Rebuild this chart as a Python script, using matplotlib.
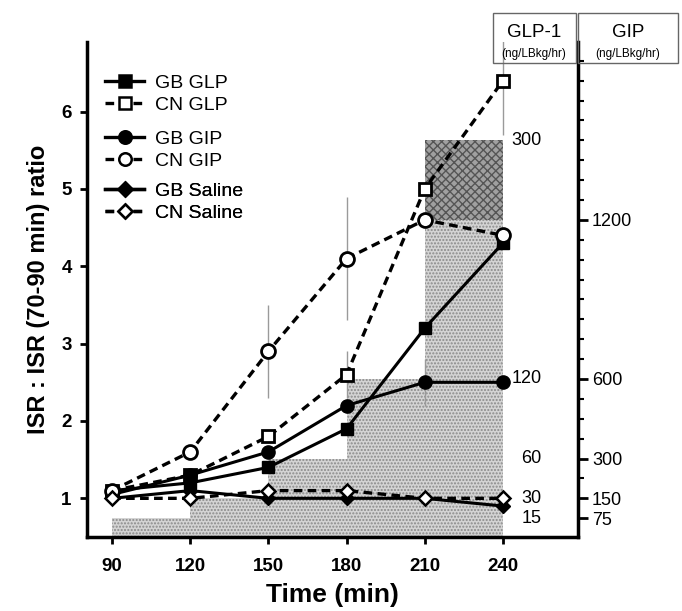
import matplotlib
matplotlib.use('Agg')
from matplotlib import pyplot as plt
from matplotlib.lines import Line2D
from matplotlib.patches import Rectangle
import matplotlib.transforms as mtransforms

plt.rcParams['font.family'] = ['Liberation Sans', 'DejaVu Sans']

times = [90, 120, 150, 180, 210, 240]

gb_glp = [1.1, 1.2, 1.4, 1.9, 3.2, 4.3]
cn_glp = [1.1, 1.3, 1.8, 2.6, 5.0, 6.4]
gb_gip = [1.05, 1.3, 1.6, 2.2, 2.5, 2.5]
cn_gip = [1.1, 1.6, 2.9, 4.1, 4.6, 4.4]
gb_sal = [1.0, 1.1, 1.0, 1.0, 1.0, 0.9]
cn_sal = [1.0, 1.0, 1.1, 1.1, 1.0, 1.0]

# error bars that show (time, mean, sem)
err_t = [150, 180, 180, 210, 240]
err_y = [2.9, 4.1, 2.6, 2.5, 6.4]
err_e = [0.6, 0.8, 0.3, 0.3, 0.7]

# infusion steps (GIP units), 30 min each
step_start = [90, 120, 150, 180, 210]
step_gip = [75, 150, 300, 600, 1200]
glp_top = 300  # GLP-1 last step

gip_ticks = [75, 150, 300, 600, 1200]
glp_ticks = [15, 30, 60, 120, 300]

# GIP scale on the right axis -> ratio units
k = 1 / 291.7
b = 0.486
def gip2r(v):
    return b + v * k
def r2gip(r):
    return (r - b) / k

fig = plt.figure(figsize=(6.82, 6.11), dpi=100)
ax = fig.add_axes([0.1276, 0.1211, 0.7199, 0.8102])

# shaded infusion
for s, g in zip(step_start, step_gip):
    ax.fill_between([s, s + 30], 0.5, gip2r(g), facecolor='#d4d4d4', hatch='.....',
                    edgecolor='#8a8a8a', linewidth=0, zorder=1)
ax.fill_between([210, 240], gip2r(1200), gip2r(glp_top * 5), facecolor='#a0a0a0',
                hatch='xxxx', edgecolor='#555555', linewidth=0, zorder=1)

ax.errorbar(err_t, err_y, yerr=err_e, fmt='none', ecolor='#9a9a9a', elinewidth=1,
            capsize=0, zorder=2)

dash = (0, (2.6, 1.6))
ax.plot(times, gb_glp, '-', color='k', lw=2.2, marker='s', ms=9, zorder=4)
ax.plot(times, cn_glp, linestyle=dash, color='k', lw=2.4, marker='s', ms=9,
        mfc='white', mew=2, zorder=4)
ax.plot(times, gb_gip, '-', color='k', lw=2.2, marker='o', ms=9.5, zorder=4)
ax.plot(times, cn_gip, linestyle=dash, color='k', lw=2.4, marker='o', ms=10,
        mfc='white', mew=2, zorder=4)
ax.plot(times, gb_sal, '-', color='k', lw=2.2, marker='D', ms=7, zorder=4)
ax.plot(times, cn_sal, linestyle=dash, color='k', lw=2.4, marker='D', ms=7,
        mfc='white', mew=1.8, zorder=4)

ax.set_xlim(80.4, 268.8)
ax.set_ylim(0.5, 6.9)
ax.set_xticks(times)
ax.set_yticks([1, 2, 3, 4, 5, 6])
ax.tick_params(axis='both', direction='out', length=5, width=2, labelsize=13.5)
ax.tick_params(axis='x', pad=10)
ax.tick_params(axis='y', pad=6)
for lab in ax.get_xticklabels() + ax.get_yticklabels():
    lab.set_fontweight('bold')
ax.spines['top'].set_visible(False)
ax.spines['right'].set_visible(False)
ax.spines['left'].set_linewidth(2.5)
ax.spines['bottom'].set_linewidth(2.5)

ax.set_xlabel('Time (min)', fontsize=19, fontweight='bold', labelpad=6)
ax.set_ylabel('ISR : ISR (70-90 min) ratio', fontsize=17, fontweight='bold', labelpad=8)

# right GIP axis
sec = ax.secondary_yaxis('right', functions=(r2gip, gip2r))
sec.set_yticks(gip_ticks)
sec.set_yticklabels([str(v) for v in gip_ticks])
sec.set_yticks(list(range(75, 1876, 75)), minor=True)
sec.tick_params(which='major', direction='out', length=7, width=2, labelsize=13, pad=3)
sec.tick_params(which='minor', direction='out', length=4, width=1.5)
sec.spines['right'].set_linewidth(2.5)

# GLP-1 labels inside the axes
trans = mtransforms.blended_transform_factory(ax.transAxes, ax.transData)
for g in glp_ticks:
    ax.text(0.926, gip2r(g * 5), str(g), transform=trans, ha='right', va='center',
            fontsize=13, zorder=5)

# header boxes
fig.add_artist(Rectangle((0.7229, 0.8969), 0.1217, 0.0818, transform=fig.transFigure,
                         facecolor='none', edgecolor='#666666', lw=1))
fig.add_artist(Rectangle((0.8475, 0.8969), 0.1466, 0.0818, transform=fig.transFigure,
                         facecolor='none', edgecolor='#666666', lw=1))
fig.text(0.783, 0.946, 'GLP-1', ha='center', va='center', fontsize=13.5)
fig.text(0.783, 0.911, '(ng/LBkg/hr)', ha='center', va='center', fontsize=8.5)
fig.text(0.9208, 0.946, 'GIP', ha='center', va='center', fontsize=13.5)
fig.text(0.9208, 0.911, '(ng/LBkg/hr)', ha='center', va='center', fontsize=8.5)

# legends in three groups
def h(style, marker, ms, filled):
    return Line2D([], [], color='k', linestyle=style, lw=2.4, marker=marker, ms=ms,
                  mfc='k' if filled else 'white', mew=1.8)

groups = [
    ([h('-', 's', 8.5, True), h(dash, 's', 8.5, False)], ['GB GLP', 'CN GLP'], 0.935),
    ([h('-', 'o', 9, True), h(dash, 'o', 9, False)], ['GB GIP', 'CN GIP'], 0.822),
    ([h('-', 'D', 7, True), h(dash, 'D', 7, False)], ['GB Saline', 'CN Saline'], 0.717),
]
for hs, labs, ytop in groups:
    leg = ax.legend(hs, labs, loc='upper left', bbox_to_anchor=(0.037, ytop),
                    frameon=False, fontsize=14, labelspacing=0.25, handlelength=2.0,
                    handletextpad=0.55, borderpad=0, borderaxespad=0)
    ax.add_artist(leg)

fig.savefig('out.png', dpi=100)
